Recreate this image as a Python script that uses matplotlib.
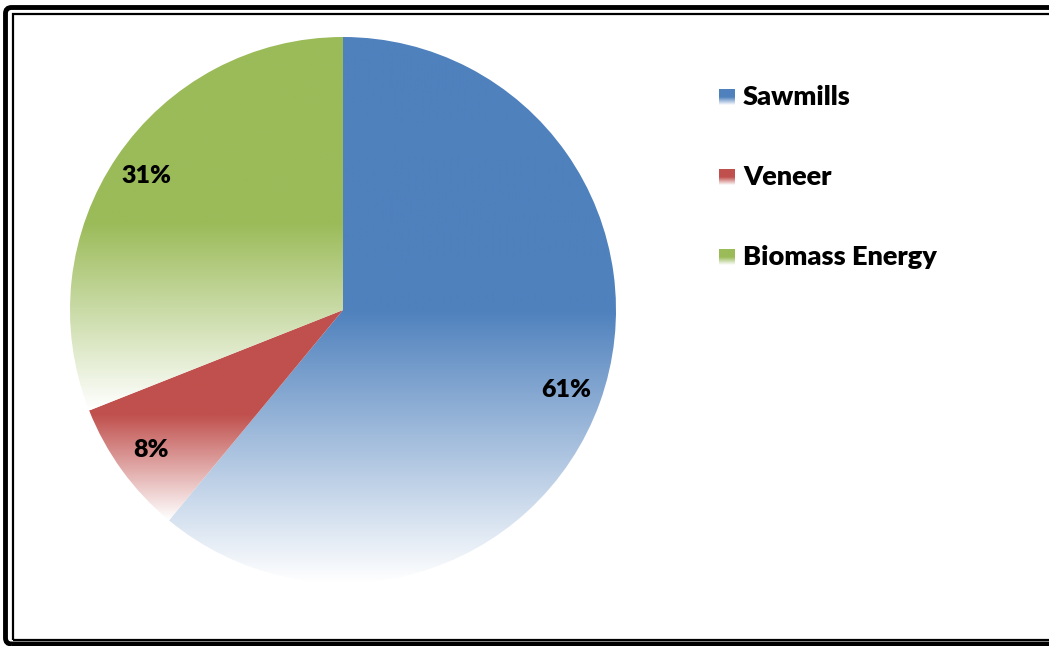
import numpy as np
import matplotlib
matplotlib.use("Agg")
from matplotlib import pyplot as plt
from matplotlib.colors import to_rgb
from matplotlib.patches import Rectangle, FancyBboxPatch

# Shares of wood use by sector
labels = ["Sawmills", "Veneer", "Biomass Energy"]
shares = [61, 8, 31]
colors = ["#4F81BD", "#C0504D", "#9BBB59"]

W, H = 1049, 646
plt.rcParams['font.family'] = ['Lato', 'DejaVu Sans']


def gradient(color, n=256):
    # solid in the upper half, fading to white over the lower half
    c = np.array(to_rgb(color))
    t = np.clip((np.linspace(0, 1, n) - 0.5) / 0.5, 0, 1)[:, None]
    rows = c * (1 - t) + np.ones(3) * t
    return rows[:, None, :]


fig = plt.figure(figsize=(W / 100, H / 100), dpi=100)
ax = fig.add_axes([0, 0, 1, 1])

# pie, centred at pixel (343, 310)
wedges, texts, autotexts = ax.pie(
    shares, center=(343, H - 310), radius=273, startangle=90,
    counterclock=False, autopct='%.0f%%', pctdistance=0.87,
    wedgeprops=dict(linewidth=0),
    textprops=dict(fontsize=18, fontweight='heavy', color='black'))
ax.set_xlim(0, W)
ax.set_ylim(0, H)
ax.set_aspect('auto')
ax.set_axis_off()

for w, col in zip(wedges, colors):
    w.set_facecolor('none')
    bb = w.get_path().get_extents(w.get_patch_transform())
    im = ax.imshow(gradient(col), extent=[bb.x0, bb.x1, bb.y0, bb.y1],
                   aspect='auto', interpolation='bilinear', zorder=1)
    im.set_clip_path(w)
for t in autotexts:
    t.set_zorder(3)

# legend
for i, (lab, col) in enumerate(zip(labels, colors)):
    yc = H - (97 + 80 * i)
    ax.imshow(gradient(col), extent=[719, 735, yc - 8, yc + 8],
              aspect='auto', interpolation='bilinear', zorder=2)
    ax.text(743, yc, lab, fontsize=19.5, fontweight='heavy', va='center', ha='left')

# double frame
ax.add_patch(FancyBboxPatch((5.5, 2), W + 20, H - 9.5, boxstyle="round,pad=0,rounding_size=6",
                            fill=False, lw=3.5, ec='black', zorder=5, clip_on=False))
ax.add_patch(Rectangle((13, 6.5), W + 20, H - 20, fill=False, lw=1.6,
                       ec='black', zorder=5, clip_on=False))

fig.savefig("out.png", dpi=100)
